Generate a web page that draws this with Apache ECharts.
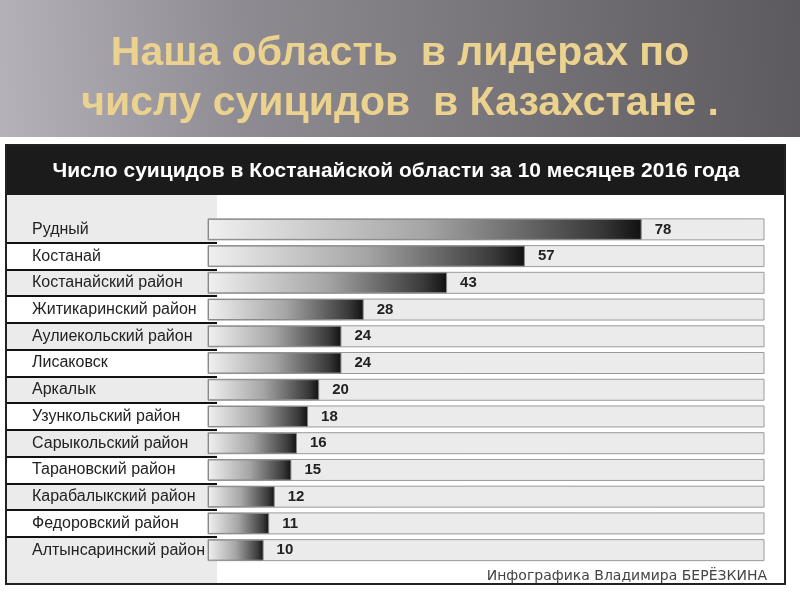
<!DOCTYPE html>
<html><head><meta charset="utf-8">
<script src="https://cdn.jsdelivr.net/npm/echarts@6/dist/echarts.min.js"></script>
<style>html,body{margin:0;padding:0;background:#fff}#c{width:800px;height:600px}</style>
</head><body><div id="c"></div>
<script>
var pageTitle = 'Наша область  в лидерах по\nчислу суицидов  в Казахстане .';
var chartTitle = 'Число суицидов в Костанайской области за 10 месяцев 2016 года';
var credit = 'Инфографика Владимира БЕРЁЗКИНА';
var categories = ['Рудный','Костанай','Костанайский район','Житикаринский район','Аулиекольский район','Лисаковск','Аркалык','Узункольский район','Сарыкольский район','Тарановский район','Карабалыкский район','Федоровский район','Алтынсаринский район'];
var values = [78,57,43,28,24,24,20,18,16,15,12,11,10];
var axisMax = 100;

var chart = echarts.init(document.getElementById('c'), null, {renderer:'canvas'});
var option = {
  animation: false,
  backgroundColor: '#ffffff',
  title: {
    text: pageTitle, left: 'center', top: 24,
    textStyle: {color:'#ebd28e', fontSize: 41, fontWeight:'bold', fontFamily:'"Liberation Sans", Arial', lineHeight: 50}
  },
  graphic: [
    {type:'rect', z:-20, shape:{x:0,y:0,width:800,height:137},
     style:{fill:new echarts.graphic.LinearGradient(0,0.4,1,0,[{offset:0,color:'#b5b1b9'},{offset:0.3,color:'#8e8b92'},{offset:1,color:'#5c5a5e'}])}},
    {type:'rect', z:-15, shape:{x:6,y:145,width:779,height:439}, style:{fill:'#ffffff', stroke:'#222', lineWidth:2}},
    {type:'rect', z:-12, shape:{x:7,y:195,width:210,height:388}, style:{fill:'#ebebeb'}},
    {type:'rect', z:5, shape:{x:7,y:146,width:777,height:49}, style:{fill:'#1b1b1b'}},
    {type:'text', z:6, x:396, y:171, style:{text:chartTitle, fill:'#ffffff', font:'bold 21px "Liberation Sans", Arial', textAlign:'center', textVerticalAlign:'middle'}},
    {type:'text', z:6, x:767, y:576, style:{text:credit, fill:'#444', font:'14px "DejaVu Sans", sans-serif', textAlign:'right', textVerticalAlign:'middle'}}
  ],
  grid: [
    {left:208, right:36, top:216, bottom:36.5},
    {left:7, width:210, top:216, bottom:36.5}
  ],
  xAxis: [
    {gridIndex:0, type:'value', min:0, max:axisMax, show:false},
    {gridIndex:1, type:'value', min:0, max:1, show:false}
  ],
  yAxis: [
    {gridIndex:0, type:'category', data:categories, inverse:true, z:10,
     axisLine:{show:false}, axisTick:{show:false}, splitLine:{show:false},
     axisLabel:{align:'left', margin:176, color:'#222', fontSize:16, fontFamily:'"Liberation Sans", Arial'}},
    {gridIndex:1, type:'category', data:categories, inverse:true, z:10,
     axisLine:{show:false}, axisTick:{show:false}, axisLabel:{show:false},
     splitLine:{show:true, showMinLine:false, showMaxLine:false, lineStyle:{color:'#111', width:2}}}
  ],
  series: [{
    type:'bar', xAxisIndex:1, yAxisIndex:1, barWidth:'100%', silent:true, z:0,
    data:categories.map(function(){return 1;}),
    itemStyle:{color:function(p){return p.dataIndex % 2 === 0 ? '#ebebeb' : '#ffffff';}}
  },{
    type:'bar', xAxisIndex:0, yAxisIndex:0, data:values, barWidth:21, z:3,
    showBackground:true,
    backgroundStyle:{color:'#ebebeb', borderColor:'#9a9a9a', borderWidth:1},
    itemStyle:{
      color:new echarts.graphic.LinearGradient(0,0,1,0,[{offset:0,color:'#f0f0f0'},{offset:0.5,color:'#a5a5a5'},{offset:0.9,color:'#3a3a3a'},{offset:1,color:'#111'}]),
      borderColor:'#888', borderWidth:1
    },
    label:{show:true, position:'right', distance:13, color:'#222', fontSize:15, fontWeight:'bold', fontFamily:'"Liberation Sans", Arial'}
  }]
};
chart.setOption(option);
</script>
</body></html>
